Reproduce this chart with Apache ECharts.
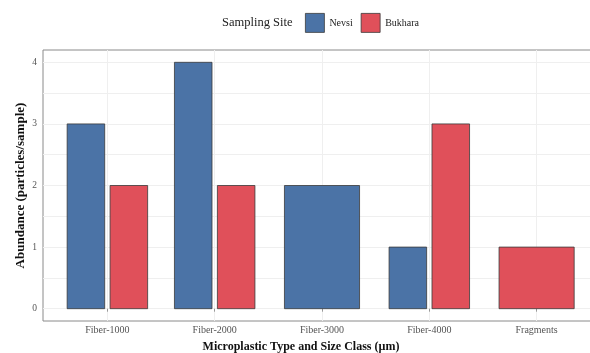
<!DOCTYPE html>
<html>
<head>
<meta charset="utf-8">
<script src="https://cdn.jsdelivr.net/npm/echarts@6/dist/echarts.min.js"></script>
<style>
  html, body { margin: 0; padding: 0; background: #fff; }
  #chart { width: 590px; height: 353px; }
</style>
</head>
<body>
<div id="chart"></div>
<script>
// Microplastic abundance by type/size class and sampling site
const categories = ['Fiber-1000', 'Fiber-2000', 'Fiber-3000', 'Fiber-4000', 'Fragments'];
const siteNames = ['Nevsi', 'Bukhara'];
const nevsi = [3, 4, 2, 1, null];
const bukhara = [2, 2, null, 3, 1];
const yTicks = [0, 1, 2, 3, 4];
const yGrid = [0, 0.5, 1, 1.5, 2, 2.5, 3, 3.5, 4];

const colors = ['#4B73A6', '#E0505A'];
const FONT = '"Liberation Serif", "DejaVu Serif", serif';

// Dodged bars: a lone bar in a group takes the full group width
function makeRender(own, other, sideSign) {
  return function (params, api) {
    const x = api.value(0);
    const v = api.value(1);
    const i = x - 1;
    const alone = other[i] == null;
    const w = alone ? 0.7 : 0.35;
    const c = alone ? x : x + sideSign * 0.2;
    const p1 = api.coord([c - w / 2, v]);
    const p2 = api.coord([c + w / 2, 0]);
    return {
      type: 'rect',
      shape: { x: p1[0], y: p1[1], width: p2[0] - p1[0], height: p2[1] - p1[1] },
      style: api.style({ stroke: '#3a3a3a', lineWidth: 0.8 })
    };
  };
}

function toPoints(arr) {
  const out = [];
  arr.forEach((v, i) => { if (v != null) out.push([i + 1, v]); });
  return out;
}

const chart = echarts.init(document.getElementById('chart'), null, { renderer: 'canvas' });
chart.setOption({
  animation: false,
  backgroundColor: '#fff',
  title: {
    text: 'Sampling Site',
    left: 217, top: 11,
    textStyle: { fontFamily: FONT, fontSize: 12.5, fontWeight: 'normal', color: '#222' }
  },
  legend: {
    left: 300, top: 8,
    itemWidth: 19, itemHeight: 19, itemGap: 8,
    textStyle: { fontFamily: FONT, fontSize: 10, color: '#222' },
    data: [
      { name: siteNames[0], icon: 'rect', itemStyle: { color: colors[0], borderColor: '#3a3a3a', borderWidth: 0.8 } },
      { name: siteNames[1], icon: 'rect', itemStyle: { color: colors[1], borderColor: '#3a3a3a', borderWidth: 0.8 } }
    ]
  },
  grid: {
    left: 43, top: 50, width: 558, height: 271,
    outerBoundsMode: 'none',
    containLabel: false,
    show: true, borderColor: '#8a8a8a', borderWidth: 1, backgroundColor: 'transparent'
  },
  xAxis: {
    type: 'value',
    min: 0.4, max: 5.6,
    name: 'Microplastic Type and Size Class (µm)',
    nameLocation: 'middle', nameGap: 20,
    nameTextStyle: { fontFamily: FONT, fontSize: 12, fontWeight: 'bold', color: '#111', padding: [0, 42, 0, 0] },
    axisLine: { show: false },
    axisTick: { show: true, customValues: [1, 2, 3, 4, 5], length: 3, lineStyle: { color: '#999' } },
    axisLabel: {
      customValues: [1, 2, 3, 4, 5],
      formatter: v => categories[Math.round(v) - 1] || '',
      fontFamily: FONT, fontSize: 10, color: '#555', margin: 4
    },
    splitLine: { show: true, lineStyle: { color: '#EFEFEF', width: 1 } }
  },
  yAxis: {
    type: 'value',
    min: -0.2, max: 4.2,
    name: 'Abundance (particles/sample)',
    nameLocation: 'middle', nameGap: 16,
    nameMoveOverlap: false,
    nameTextStyle: { fontFamily: FONT, fontSize: 13, fontWeight: 'bold', color: '#111' },
    axisLine: { show: false },
    axisTick: { show: false, customValues: yGrid },
    axisLabel: {
      customValues: yTicks,
      fontFamily: FONT, fontSize: 9.5, color: '#555', margin: 6
    },
    splitLine: { show: true, lineStyle: { color: '#EFEFEF', width: 1 } }
  },
  series: [
    {
      name: siteNames[0], type: 'custom',
      renderItem: makeRender(nevsi, bukhara, -1),
      itemStyle: { color: colors[0] },
      encode: { x: 0, y: 1 },
      data: toPoints(nevsi)
    },
    {
      name: siteNames[1], type: 'custom',
      renderItem: makeRender(bukhara, nevsi, 1),
      itemStyle: { color: colors[1] },
      encode: { x: 0, y: 1 },
      data: toPoints(bukhara)
    }
  ]
});
</script>
</body>
</html>
